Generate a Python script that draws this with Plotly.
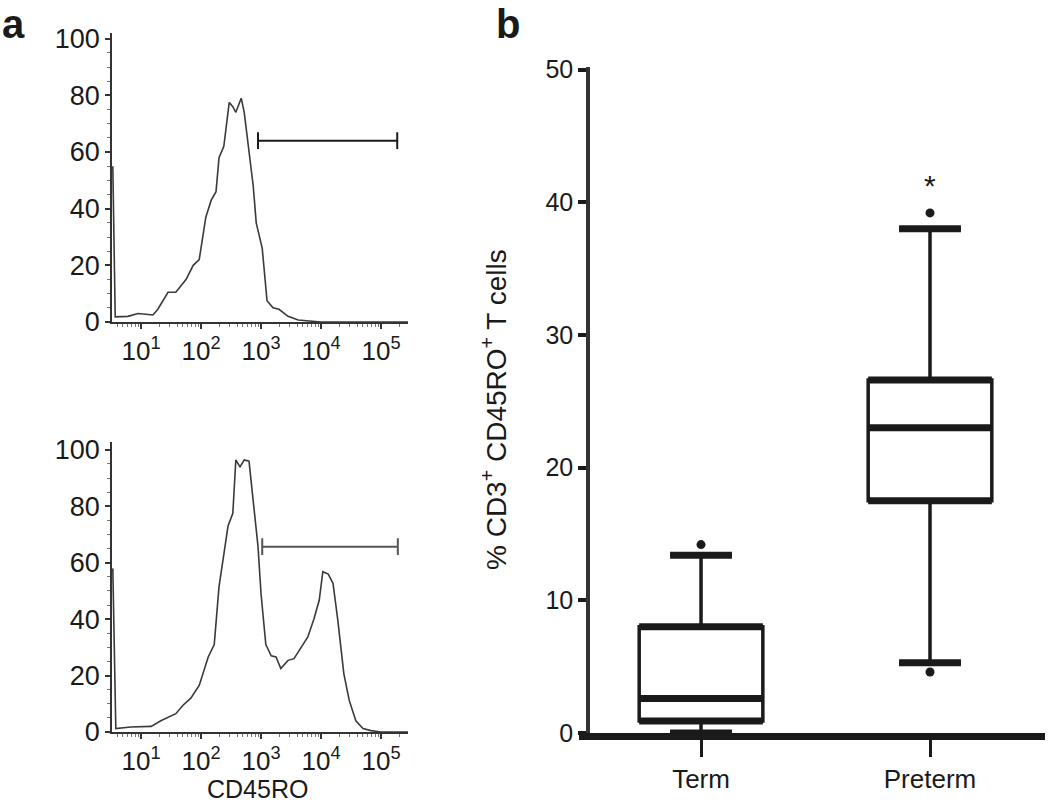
import plotly.graph_objects as go

# panel a: CD45RO histograms (x as log10 of intensity, y as % of max)
top_log = [0.53, 0.57, 0.78, 0.95, 1.2, 1.28, 1.45, 1.58, 1.75, 1.87, 1.97, 2.08, 2.17,
           2.25, 2.3, 2.38, 2.47, 2.53, 2.58, 2.67, 2.72, 2.8, 2.87, 2.92, 3.02, 3.1,
           3.2, 3.3, 3.45, 3.62, 3.78, 4.0, 5.0, 5.45]
top_count = [55, 1.8, 2, 3, 2.5, 4.5, 10.5, 10.5, 15, 20, 22, 37, 43,
             46, 58, 62, 77.5, 76, 74, 79, 74, 60, 48, 35, 26, 7.5,
             5, 4.5, 2, 0.7, 0.3, 0, 0, 0]

bottom_log = [0.53, 0.58, 0.83, 1.17, 1.33, 1.58, 1.7, 1.83, 1.97, 2.12, 2.22, 2.3,
              2.38, 2.45, 2.53, 2.58, 2.65, 2.72, 2.8, 2.88, 2.95, 3.0, 3.08, 3.17,
              3.25, 3.33, 3.45, 3.55, 3.67, 3.78, 3.88, 3.97, 4.03, 4.12, 4.2, 4.28,
              4.38, 4.47, 4.58, 4.7, 4.83, 5.0, 5.45]
bottom_count = [58, 1.2, 1.8, 2, 4, 6.5, 9.5, 12, 16.5, 26.6, 31, 51.5,
                63, 73, 77.5, 96.4, 94, 96.4, 96, 81, 65.7, 49, 31, 27,
                26.6, 22.5, 25.4, 26, 30, 33.7, 40, 46.7, 56.8, 56, 52.7, 39.6,
                20.7, 11.2, 4, 1.2, 0.5, 0, 0]

# gates (log10 start, log10 end, level)
top_gate = [2.95, 5.27]
top_gate_y = 64
bottom_gate = [3.02, 5.28]
bottom_gate_y = 65.7

decades = [1, 2, 3, 4, 5]

# panel b: box plot summary
groups = ["Term", "Preterm"]
q1 = [0.9, 17.5]
median = [2.6, 23.0]
q3 = [8.0, 26.6]
low = [0.0, 5.3]
high = [13.4, 38.0]
extremes_x = ["Term", "Preterm", "Preterm"]
extremes_y = [14.2, 39.2, 4.6]

FONT = "Liberation Sans, Arial, sans-serif"
INK = "#1a1a1a"
BOX_W = 0.54          # box width in category units
CAT_PX = 229          # pixels per category step

fig = go.Figure()

fig.add_trace(go.Scatter(
    x=[10 ** v for v in top_log], y=top_count, mode="lines",
    line=dict(color="#3a3a3a", width=1.6), xaxis="x", yaxis="y"))
fig.add_trace(go.Scatter(
    x=[10 ** v for v in top_gate], y=[top_gate_y] * 2, mode="lines+markers",
    line=dict(color=INK, width=2),
    marker=dict(symbol="line-ns", size=12, line=dict(color=INK, width=2)),
    xaxis="x", yaxis="y"))

fig.add_trace(go.Scatter(
    x=[10 ** v for v in bottom_log], y=bottom_count, mode="lines",
    line=dict(color="#3a3a3a", width=1.6), xaxis="x2", yaxis="y2"))
fig.add_trace(go.Scatter(
    x=[10 ** v for v in bottom_gate], y=[bottom_gate_y] * 2, mode="lines+markers",
    line=dict(color="#555555", width=2),
    marker=dict(symbol="line-ns", size=12, line=dict(color="#555555", width=2)),
    xaxis="x2", yaxis="y2"))

fig.add_trace(go.Box(
    x=groups, q1=q1, median=median, q3=q3, lowerfence=low, upperfence=high,
    width=BOX_W, whiskerwidth=0.5, boxpoints=False,
    fillcolor="white", line=dict(color=INK, width=3.5),
    xaxis="x3", yaxis="y3"))

# thick horizontal strokes on box edges, median and caps
box_px = BOX_W * CAT_PX
for vals, width_px in [(q1, box_px), (median, box_px), (q3, box_px),
                       (low, box_px / 2), (high, box_px / 2)]:
    fig.add_trace(go.Scatter(
        x=groups, y=vals, mode="markers",
        marker=dict(symbol="line-ew", size=width_px / 1.4,
                    line=dict(color=INK, width=7)),
        xaxis="x3", yaxis="y3"))

fig.add_trace(go.Scatter(
    x=extremes_x, y=extremes_y, mode="markers",
    marker=dict(symbol="circle", size=9, color=INK),
    xaxis="x3", yaxis="y3"))

log_axis = dict(
    type="log", range=[0.517, 5.45], automargin=False,
    tickmode="array", tickvals=[10 ** d for d in decades],
    ticktext=[f"10<sup>{d}</sup>" for d in decades],
    ticks="outside", ticklen=5, tickwidth=1.5, tickcolor="#333",
    minor=dict(ticks="outside", ticklen=3, tickwidth=1, tickcolor="#777",
               tickvals=[k * 10 ** d for d in range(0, 6) for k in range(2, 10)]),
    showline=True, linecolor="#333", linewidth=1.6,
    showgrid=False, zeroline=False,
    tickfont=dict(family=FONT, size=26, color=INK))

count_axis = dict(
    tickmode="array", tickvals=[0, 20, 40, 60, 80, 100], automargin=False,
    ticks="outside", ticklen=5, tickwidth=1.5, tickcolor="#333",
    minor=dict(ticks="outside", ticklen=3, tickwidth=1, tickcolor="#777", dtick=5),
    showline=True, linecolor="#333", linewidth=1.6,
    showgrid=False, zeroline=False,
    tickfont=dict(family=FONT, size=27, color=INK))

fig.update_layout(
    template="none",
    width=1050, height=803,
    margin=dict(l=0, r=0, t=0, b=0, autoexpand=False),
    paper_bgcolor="white", plot_bgcolor="white",
    showlegend=False,
    xaxis=dict(log_axis, domain=[0.1067, 0.3886], anchor="y"),
    yaxis=dict(count_axis, domain=[0.599, 0.9589], range=[0, 102], anchor="x"),
    xaxis2=dict(log_axis, domain=[0.1067, 0.3886], anchor="y2"),
    yaxis2=dict(count_axis, domain=[0.0884, 0.4496], range=[0, 102.8], anchor="x2"),
    xaxis3=dict(
        domain=[0.5514, 0.9952], range=[-0.533, 1.502], anchor="y3",
        automargin=False,
        type="category", categoryorder="array", categoryarray=groups,
        ticks="outside", ticklen=17, tickwidth=2.5, tickcolor=INK,
        showline=True, linecolor=INK, linewidth=7,
        showgrid=False, zeroline=False,
        tickfont=dict(family=FONT, size=26, color=INK)),
    yaxis3=dict(
        domain=[0.0872, 0.9166], range=[0, 50.2], anchor="free", position=0.56,
        automargin=False,
        tickmode="array", tickvals=[0, 10, 20, 30, 40, 50],
        ticks="outside", ticklen=8, tickwidth=4, tickcolor=INK,
        showline=True, linecolor="#333", linewidth=3.5,
        showgrid=False, zeroline=False,
        tickfont=dict(family=FONT, size=25, color=INK)),
    annotations=[
        dict(text="<b>a</b>", x=0.0, y=1.0, xref="paper", yref="paper",
             xanchor="left", yanchor="top", showarrow=False,
             font=dict(family=FONT, size=40, color=INK)),
        dict(text="<b>b</b>", x=0.47, y=1.0, xref="paper", yref="paper",
             xanchor="left", yanchor="top", showarrow=False,
             font=dict(family=FONT, size=40, color=INK)),
        dict(text="CD45RO", x=257 / 1050, y=(803 - 789) / 803,
             xref="paper", yref="paper", xanchor="center", yanchor="middle",
             showarrow=False, font=dict(family=FONT, size=25, color=INK)),
        dict(text="% CD3<sup>+</sup> CD45RO<sup>+</sup> T cells",
             x=494 / 1050, y=(803 - 410) / 803, xref="paper", yref="paper",
             xanchor="center", yanchor="middle",
             textangle=-90, showarrow=False,
             font=dict(family=FONT, size=28, color=INK)),
        dict(text="*", x="Preterm", y=41.3, xref="x3", yref="y3",
             showarrow=False, font=dict(family=FONT, size=30, color=INK)),
    ],
)

# drop the default page margin so the figure sits at the window's top-left corner
fig.write_html("out.html", config={"displayModeBar": False},
               post_script="document.body.style.margin = '0';")
